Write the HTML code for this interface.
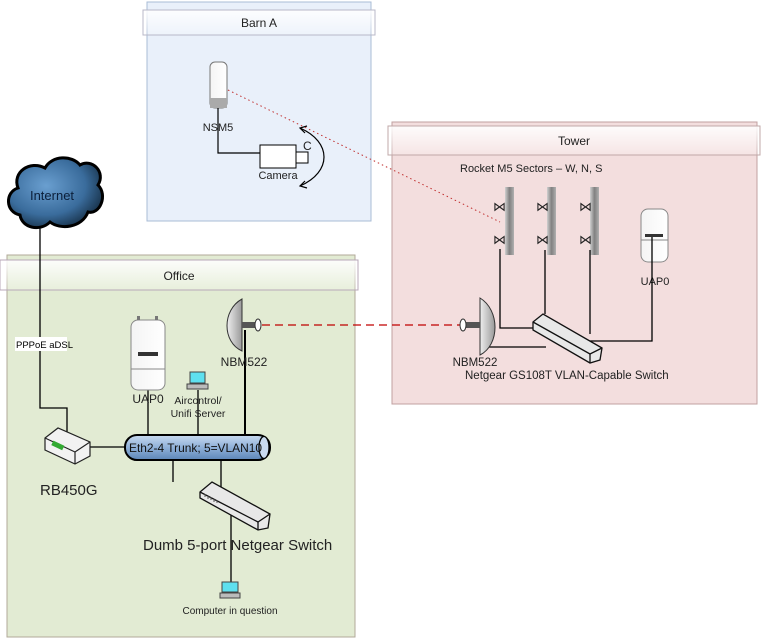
<!DOCTYPE html>
<html><head><meta charset="utf-8"><style>
html,body{margin:0;padding:0;background:#fff;}
svg{display:block;font-family:"Liberation Sans",sans-serif;}
</style></head><body>
<svg width="763" height="641" viewBox="0 0 763 641" xmlns="http://www.w3.org/2000/svg">
<defs>
<linearGradient id="hdr" x1="0" y1="0" x2="0" y2="1"><stop offset="0" stop-color="#ffffff" stop-opacity="0.9"/><stop offset="1" stop-color="#ffffff" stop-opacity="0.2"/></linearGradient>
<linearGradient id="pipe" x1="0" y1="0" x2="0" y2="1"><stop offset="0" stop-color="#c9daf0"/><stop offset="0.5" stop-color="#8fb0d8"/><stop offset="1" stop-color="#5d86b8"/></linearGradient>
<radialGradient id="cloud" cx="0.4" cy="0.4" r="0.7"><stop offset="0" stop-color="#6a9fd0"/><stop offset="0.6" stop-color="#3a6c9c"/><stop offset="1" stop-color="#102538"/></radialGradient>
<linearGradient id="bar" x1="0" y1="0" x2="1" y2="0"><stop offset="0" stop-color="#d0d0d0"/><stop offset="0.5" stop-color="#808080"/><stop offset="1" stop-color="#b0b0b0"/></linearGradient>
<linearGradient id="dish" x1="0" y1="0" x2="1" y2="0"><stop offset="0" stop-color="#eeeeee"/><stop offset="1" stop-color="#999"/></linearGradient>
<linearGradient id="dev" x1="0" y1="0" x2="1" y2="0"><stop offset="0" stop-color="#f4f4f4"/><stop offset="1" stop-color="#ffffff"/></linearGradient>
</defs>

<rect x="147" y="2" width="224" height="219" fill="#e9f0fa" stroke="#a9bcd6"/>
<rect x="143" y="10" width="232" height="25" fill="url(#hdr)" stroke="#b8b8c8"/>
<text x="259" y="27" font-size="12" text-anchor="middle" fill="#222">Barn A</text>

<rect x="7" y="255" width="348" height="382" fill="#e2ebd3" stroke="#b2aa98"/>
<rect x="0" y="260" width="358" height="30" fill="url(#hdr)" stroke="#b8a8b8"/>
<text x="179" y="280" font-size="12" text-anchor="middle" fill="#222">Office</text>

<rect x="392" y="122" width="365" height="282" fill="#f3dede" stroke="#c0a0a0"/>
<rect x="388" y="126" width="372" height="29" fill="url(#hdr)" stroke="#c0a8a8"/>
<text x="574" y="145" font-size="12" text-anchor="middle" fill="#222">Tower</text>

<g stroke="#000" stroke-width="3" fill="url(#cloud)">
<path d="M20,215 C5,212 5,192 18,188 C12,172 30,160 45,168 C52,155 72,155 80,165 C92,158 106,172 98,185 C108,195 100,215 88,212 C82,228 60,230 50,222 C40,232 22,228 20,215 Z"/>
</g>
<text x="52" y="200" font-size="13" text-anchor="middle" fill="#0b1f3a">Internet</text>

<g stroke="#000" stroke-width="1.3" fill="none">
<path d="M40,226 V408 H67 V432"/>
<path d="M90,447 H126"/>
<path d="M148,390 V436"/>
<path d="M198,390 V436"/>
<path d="M245,330 V436" stroke-width="2"/>
<path d="M173,460 V482"/>
<path d="M221,460 V487"/>
<path d="M231,510 V583"/>
</g>
<rect x="15" y="337" width="52" height="14" fill="#fff"/>
<text x="16" y="348" font-size="9.5" fill="#000">PPPoE aDSL</text>

<g stroke="#222" stroke-width="1.2">
<path d="M45,438 L58,428 L90,442 L90,456 L75,464 L45,450 Z" fill="#f2f2f2"/>
<path d="M45,438 L75,452 L90,442" fill="none"/>
<path d="M75,452 V464" fill="none"/>
<rect x="52" y="443" width="12" height="5" fill="#3a3" stroke="none" transform="rotate(25 58 445)"/>
</g>
<text x="40" y="495" font-size="15" fill="#222">RB450G</text>

<rect x="125" y="435" width="145" height="25" rx="12" fill="url(#pipe)" stroke="#000" stroke-width="2"/>
<ellipse cx="264" cy="447.5" rx="5" ry="11" fill="#c9daf0" stroke="#000" stroke-width="1.3"/>
<text x="129" y="452" font-size="12" textLength="133" lengthAdjust="spacingAndGlyphs" fill="#111">Eth2-4 Trunk; 5=VLAN10</text>

<rect x="131" y="320" width="34" height="70" rx="7" fill="url(#dev)" stroke="#888"/>
<line x1="131" y1="369" x2="165" y2="369" stroke="#888"/>
<rect x="138" y="352" width="20" height="4" fill="#333"/>
<rect x="137" y="316" width="3" height="4" fill="#777"/><rect x="155" y="316" width="3" height="4" fill="#777"/>
<text x="148" y="403" font-size="12" text-anchor="middle" fill="#222">UAP0</text>

<rect x="190" y="372" width="15" height="11" fill="#5ee0ef" stroke="#444"/>
<rect x="187" y="384" width="21" height="5" fill="#bbb" stroke="#444"/>
<text x="198" y="404" font-size="10.5" text-anchor="middle" fill="#222">Aircontrol/</text>
<text x="198" y="417" font-size="10.5" text-anchor="middle" fill="#222">Unifi Server</text>

<path d="M242,299 C222,310 222,342 242,351 Z" fill="url(#dish)" stroke="#333"/>
<rect x="242" y="322" width="14" height="6" fill="#555"/>
<ellipse cx="258" cy="325" rx="3" ry="6" fill="#fff" stroke="#333"/>
<text x="244" y="366" font-size="12" text-anchor="middle" fill="#222">NBM522</text>

<line x1="262" y1="325" x2="462" y2="325" stroke="#c00000" stroke-width="1.2" stroke-dasharray="8,5"/>

<g stroke="#111" stroke-width="1.3">
<path d="M200,492 L212,482 L270,514 L268,528 L258,530 L200,498 Z" fill="#e8e8e8"/>
<path d="M200,492 L258,522 L270,514" fill="none"/>
<path d="M258,522 V530" fill="none"/>
</g>
<g stroke="#555"><line x1="205" y1="494" x2="205" y2="497"/><line x1="208" y1="496" x2="208" y2="499"/><line x1="211" y1="497" x2="211" y2="500"/><line x1="214" y1="499" x2="214" y2="502"/><line x1="217" y1="500" x2="217" y2="503"/></g>
<text x="143" y="550" font-size="15" fill="#222">Dumb 5-port Netgear Switch</text>

<rect x="222" y="582" width="16" height="10" fill="#5ee0ef" stroke="#444"/>
<rect x="220" y="593" width="20" height="5" fill="#bbb" stroke="#444"/>
<text x="230" y="614" font-size="10" text-anchor="middle" fill="#222">Computer in question</text>

<rect x="210" y="62" width="17" height="46" rx="5" fill="url(#dev)" stroke="#777"/>
<rect x="210" y="98" width="17" height="10" fill="#aaa"/>
<g stroke="#000" stroke-width="1.2" fill="none">
<path d="M218,108 V153 H260"/>
<path d="M300,128 C332,142 332,172 300,186"/>
<path d="M307,126 L300,128 L305,133 M307,188 L300,186 L305,181"/>
</g>
<rect x="260" y="145" width="36" height="23" fill="#fff" stroke="#000"/>
<rect x="296" y="152" width="12" height="11" fill="#fff" stroke="#000"/>
<text x="303" y="150" font-size="12" fill="#222">C</text>
<text x="278" y="179" font-size="11" text-anchor="middle" fill="#222">Camera</text>
<text x="218" y="131" font-size="11" text-anchor="middle" fill="#222">NSM5</text>

<line x1="228" y1="90" x2="500" y2="222" stroke="#c03030" stroke-width="1" stroke-dasharray="1.5,3"/>

<text x="460" y="172" font-size="11" fill="#222">Rocket M5 Sectors – W, N, S</text>
<rect x="505" y="187" width="9" height="68" fill="url(#bar)"/>
<rect x="547" y="187" width="9" height="68" fill="url(#bar)"/>
<rect x="590" y="187" width="9" height="68" fill="url(#bar)"/>
<g font-size="13" fill="#222">
<text x="493" y="211">⋈</text><text x="493" y="244">⋈</text>
<text x="536" y="211">⋈</text><text x="536" y="244">⋈</text>
<text x="579" y="211">⋈</text><text x="579" y="244">⋈</text>
</g>
<rect x="641" y="209" width="27" height="53" rx="7" fill="url(#dev)" stroke="#888"/>
<line x1="641" y1="240" x2="668" y2="240" stroke="#888"/>
<rect x="645" y="234" width="18" height="3" fill="#333"/>
<text x="655" y="285" font-size="11" text-anchor="middle" fill="#222">UAP0</text>

<g stroke="#000" stroke-width="1.3" fill="none">
<path d="M500,249 V328 H535"/>
<path d="M545,250 V314"/>
<path d="M590,250 V334"/>
<path d="M652,237 V341 H568 V330"/>
<path d="M485,347 H546"/>
</g>
<g stroke="#111" stroke-width="1.3">
<path d="M533,322 L543,314 L602,348 L600,360 L590,363 L533,330 Z" fill="#e8e8e8"/>
<path d="M533,322 L590,354 L602,348" fill="none"/>
<path d="M590,354 V363" fill="none"/>
</g>
<path d="M480,298 C500,310 500,345 480,355 Z" fill="url(#dish)" stroke="#333"/>
<rect x="466" y="322" width="14" height="6" fill="#555"/>
<ellipse cx="463" cy="325" rx="3" ry="6" fill="#fff" stroke="#333"/>
<text x="475" y="366" font-size="11.5" text-anchor="middle" fill="#222">NBM522</text>
<text x="465" y="379" font-size="11.5" fill="#222">Netgear GS108T VLAN-Capable Switch</text>
</svg>
</body></html>
